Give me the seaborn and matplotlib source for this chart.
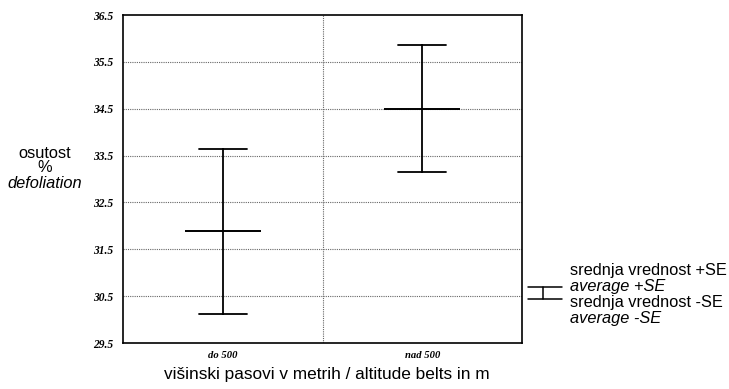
import numpy as np
import pandas as pd
import matplotlib
matplotlib.use("Agg")
import matplotlib.pyplot as plt
from matplotlib.lines import Line2D
import seaborn as sns

# ---- data ----
groups = ["do 500", "nad 500"]
means = [31.88, 34.50]
se = [1.76, 1.35]
yticks = [29.5, 30.5, 31.5, 32.5, 33.5, 34.5, 35.5, 36.5]
ytick_labels = ["29.5", "30.5", "31.5", "32.5", "33.5", "34.5", "35.5", "36.5"]

# rows at mean-SE and mean+SE; mean of them = mean, range = +-SE
rows = []
for g, m, s in zip(groups, means, se):
    rows.append({"group": g, "value": m - s})
    rows.append({"group": g, "value": m + s})
df = pd.DataFrame(rows)

sns.set_theme(style="white")
plt.rcParams["text.color"] = "black"
plt.rcParams["xtick.color"] = "black"
plt.rcParams["ytick.color"] = "black"

fig = plt.figure(figsize=(7.29, 3.89), dpi=100)
ax = fig.add_axes([123/729, 1-343/389, (522-123)/729, (343-15)/389])

sns.pointplot(data=df, x="group", y="value", order=groups,
              estimator="mean", errorbar=lambda v: (v.min(), v.max()),
              capsize=0.24, linestyle="none", marker="_", markersize=55,
              markeredgewidth=1.4, color="black",
              err_kws={"linewidth": 1.3, "color": "black"}, ax=ax)

ax.set_xlim(-0.5, 1.5)
ax.set_ylim(29.5, 36.5)
ax.set_yticks(yticks)
ax.set_yticklabels(ytick_labels)
ax.set_xlabel("")
ax.set_ylabel("")

for t in yticks[1:-1]:
    ax.axhline(t, color="#666666", linestyle=(0, (1, 1)), linewidth=0.8, zorder=0)
ax.axvline(0.5, color="#666666", linestyle=(0, (1, 1)), linewidth=0.8, zorder=0)

for sp in ax.spines.values():
    sp.set_visible(True)
    sp.set_color("black")
    sp.set_linewidth(1.2)

ax.tick_params(axis="both", length=0, labelcolor="black")
ax.tick_params(axis="y", pad=7)
ax.tick_params(axis="x", pad=6)
for lab in ax.get_yticklabels():
    lab.set_fontsize(8.3)
for lab in ax.get_xticklabels():
    lab.set_fontsize(7.7)
for lab in ax.get_yticklabels() + ax.get_xticklabels():
    lab.set_fontfamily("Liberation Serif")
    lab.set_fontweight("bold")
    lab.set_fontstyle("italic")
    lab.set_color("black")

sans = "Liberation Sans"
fig.text(327/729, 1-374/389, "višinski pasovi v metrih / altitude belts in m",
         ha="center", va="center", fontsize=12.4, family=sans, color="black")

fig.text(45/729, 1-153/389, "osutost", ha="center", va="center", fontsize=11.8,
         family=sans, color="black")
fig.text(45/729, 1-167/389, "%", ha="center", va="center", fontsize=11.8,
         family=sans, color="black")
fig.text(45/729, 1-183/389, "defoliation", ha="center", va="center", fontsize=11.8,
         family=sans, style="italic", color="black")

# legend glyph
def fx(px):
    return px / 729
def fy(py):
    return 1 - py / 389
fig.add_artist(Line2D([fx(528), fx(562)], [fy(287), fy(287)], color="black", lw=1.1))
fig.add_artist(Line2D([fx(528), fx(562)], [fy(299), fy(299)], color="black", lw=1.1))
fig.add_artist(Line2D([fx(543), fx(543)], [fy(287), fy(299)], color="black", lw=1.1))

leg = [("srednja vrednost +SE", "normal", 270),
       ("average +SE", "italic", 286),
       ("srednja vrednost -SE", "normal", 303),
       ("average -SE", "italic", 319)]
for txt, st, y in leg:
    fig.text(570/729, 1-y/389, txt, ha="left", va="center", fontsize=11.8,
             family=sans, style=st, color="black")

fig.savefig("out.png", dpi=100)
